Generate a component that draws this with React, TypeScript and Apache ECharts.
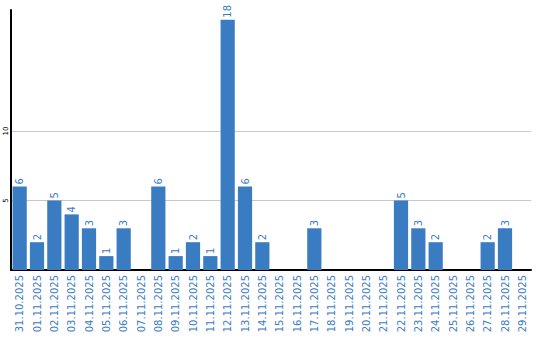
import React, { useEffect, useRef } from "react";
import * as echarts from "echarts";

const categories = [
  "31.10.2025", "01.11.2025", "02.11.2025", "03.11.2025", "04.11.2025", "05.11.2025",
  "06.11.2025", "07.11.2025", "08.11.2025", "09.11.2025", "10.11.2025", "11.11.2025",
  "12.11.2025", "13.11.2025", "14.11.2025", "15.11.2025", "16.11.2025", "17.11.2025",
  "18.11.2025", "19.11.2025", "20.11.2025", "21.11.2025", "22.11.2025", "23.11.2025",
  "24.11.2025", "25.11.2025", "26.11.2025", "27.11.2025", "28.11.2025", "29.11.2025",
];
const values = [6, 2, 5, 4, 3, 1, 3, 0, 6, 1, 2, 1, 18, 6, 2, 0, 0, 3, 0, 0, 0, 0, 5, 3, 2, 0, 0, 2, 3, 0];
const gridValues = [5, 10];

const BLUE = "#3a7cc2";
const FONT = "'DejaVu Sans', Verdana, sans-serif";

export default function App() {
  const ref = useRef<HTMLDivElement>(null);
  useEffect(() => {
    const chart = echarts.init(ref.current!, null, { renderer: "svg" });
    chart.setOption({
      animation: false,
      grid: { left: 11, right: 9, top: 10, bottom: 70, containLabel: false },
      xAxis: {
        type: "category",
        data: categories,
        axisLine: { show: true, lineStyle: { color: "#000", width: 2 } },
        axisTick: { show: false },
        axisLabel: {
          interval: 0,
          rotate: 90,
          color: BLUE,
          fontFamily: FONT,
          fontSize: 10,
          margin: 5,
        },
      },
      yAxis: {
        type: "value",
        min: 0,
        max: 18.7,
        interval: 5,
        axisLine: { show: true, lineStyle: { color: "#000", width: 2 } },
        axisTick: { show: false },
        splitLine: { show: false },
        axisLabel: {
          show: true,
          rotate: 90,
          color: "#000",
          fontFamily: FONT,
          fontSize: 7,
          margin: 2,
          align: "center",
          verticalAlign: "bottom",
          formatter: (v: number) => (gridValues.indexOf(v) >= 0 ? String(v) : ""),
        },
      },
      series: [
        {
          type: "bar",
          data: values,
          barCategoryGap: "18%",
          itemStyle: { color: BLUE },
          label: {
            show: true,
            position: "top",
            rotate: 90,
            align: "left",
            verticalAlign: "middle",
            distance: 2,
            color: BLUE,
            fontFamily: FONT,
            fontSize: 10,
            formatter: (p: any) => (p.value ? String(p.value) : ""),
          },
          markLine: {
            silent: true,
            symbol: "none",
            label: { show: false },
            lineStyle: { color: "#c8c8c8", type: "solid", width: 1 },
            data: gridValues.map((v) => ({ yAxis: v })),
            z: 0,
          },
          z: 2,
        },
      ],
    });
    return () => chart.dispose();
  }, []);
  return (
    <div
      ref={ref}
      style={{ position: "absolute", left: 0, top: 0, width: 540, height: 340 }}
    />
  );
}
